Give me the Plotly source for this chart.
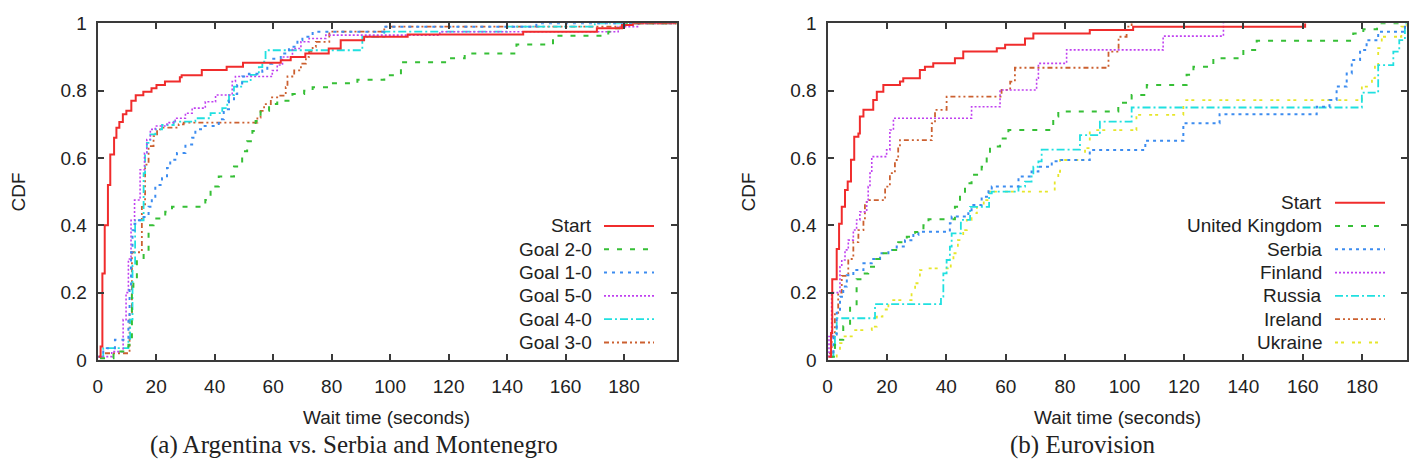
import plotly.graph_objects as go

W, H = 1419, 461

# ---------------- data: (a) Argentina vs. Serbia and Montenegro ----------------
a_names = ["Start", "Goal 2-0", "Goal 1-0", "Goal 5-0", "Goal 4-0", "Goal 3-0"]

a_start_x = [0.3, 1.0, 1.6, 2.4, 3.5, 4.3, 5.6, 6.4, 7.4, 8.6, 9.8, 11.5, 13.0, 15.6, 18.4, 20.1, 23, 28.1, 28.7,
             35.6, 44.1, 49.7, 62.6, 66, 71, 79, 83.1, 91.1, 106, 145.5, 170.7, 179.3, 183, 198]
a_start_y = [0.01, 0.04, 0.257, 0.40, 0.52, 0.61, 0.66, 0.69, 0.707, 0.73, 0.74, 0.77, 0.786, 0.797, 0.807, 0.817,
             0.827, 0.84, 0.846, 0.861, 0.871, 0.883, 0.89, 0.90, 0.91, 0.925, 0.95, 0.96, 0.967, 0.975, 0.985,
             0.995, 1.0, 1.0]

a_g20_x = [0.8, 5.4, 10, 10.5, 11.7, 12.2, 13.4, 15.7, 17.4, 19.1, 23.1, 25.4, 36.8, 38.6, 41.4, 46.6, 49.4, 51.1,
           52.9, 54, 55.7, 58.6, 61.4, 66.6, 70.6, 73.5, 79.2, 88.8, 98, 103.7, 120, 125.5, 143.2, 155.7, 174.6,
           176.3, 179, 181, 198]
a_g20_y = [0.005, 0.025, 0.035, 0.045, 0.2, 0.24, 0.3, 0.32, 0.4, 0.42, 0.44, 0.455, 0.475, 0.515, 0.545, 0.575,
           0.62, 0.65, 0.68, 0.71, 0.74, 0.76, 0.77, 0.79, 0.80, 0.81, 0.822, 0.832, 0.846, 0.884, 0.896, 0.91,
           0.937, 0.963, 0.975, 0.985, 0.995, 1.0, 1.0]

a_g10_x = [0.2, 1.9, 3.1, 5.9, 10.5, 10.9, 11.4, 11.9, 12.6, 13.4, 15.1, 17.4, 18.5, 19.7, 22, 23.7, 24.8, 27.1, 30,
           32.3, 33.4, 35.7, 41.4, 43.1, 44.9, 46.6, 47.7, 49.4, 51.7, 56.3, 58, 59.7, 62.6, 65.4, 68.3, 70, 73.5,
           98, 150, 198]
a_g10_y = [0.01, 0.025, 0.035, 0.06, 0.12, 0.22, 0.32, 0.385, 0.405, 0.415, 0.425, 0.455, 0.485, 0.52, 0.54, 0.57,
           0.595, 0.615, 0.64, 0.66, 0.685, 0.695, 0.715, 0.745, 0.77, 0.79, 0.817, 0.842, 0.85, 0.86, 0.88, 0.895,
           0.91, 0.93, 0.95, 0.96, 0.975, 0.99, 1.0, 1.0]

a_g50_x = [0.2, 4.8, 8.7, 9.7, 10.5, 11.4, 12.6, 14.5, 16, 16.8, 18, 19.7, 23.7, 26.5, 30, 32.3, 36.8, 40.3, 46,
           47.1, 59.7, 61.4, 63.2, 66.6, 69.5, 72.3, 78, 117, 178, 185, 198]
a_g50_y = [0.01, 0.025, 0.12, 0.2, 0.3, 0.415, 0.475, 0.565, 0.615, 0.655, 0.685, 0.695, 0.705, 0.718, 0.733,
           0.748, 0.767, 0.787, 0.827, 0.842, 0.86, 0.876, 0.9, 0.925, 0.945, 0.955, 0.965, 0.975, 0.99, 1.0, 1.0]

a_g40_x = [0.5, 1.9, 10.5, 11.1, 11.9, 12.8, 15.7, 16.2, 16.8, 18, 19.7, 22, 26, 33.4, 38.6, 42.6, 44.3, 44.9,
           46.6, 49.4, 52.3, 55.1, 56.3, 57.4, 90.5, 98, 140, 170, 198]
a_g40_y = [0.01, 0.035, 0.06, 0.12, 0.28, 0.415, 0.555, 0.615, 0.645, 0.67, 0.685, 0.698, 0.708, 0.718, 0.733,
           0.748, 0.77, 0.787, 0.812, 0.827, 0.847, 0.87, 0.886, 0.92, 0.96, 0.975, 0.99, 1.0, 1.0]

a_g30_x = [2.5, 10.9, 11.7, 15.1, 16.2, 17.4, 19.1, 20.3, 22, 27.7, 29.4, 54.6, 55.7, 56.9, 59.2, 62, 64.3, 64.9,
           67.2, 69.5, 71.2, 72.3, 73.5, 74.6, 79.2, 98, 180, 198]
a_g30_y = [0.02, 0.14, 0.32, 0.455, 0.58, 0.635, 0.665, 0.685, 0.69, 0.70, 0.705, 0.72, 0.74, 0.76, 0.78, 0.785,
           0.81, 0.842, 0.86, 0.88, 0.9, 0.916, 0.93, 0.945, 0.975, 0.99, 1.0, 1.0]

# ---------------- data: (b) Eurovision ----------------
b_names = ["Start", "United Kingdom", "Serbia", "Finland", "Russia", "Ireland", "Ukraine"]

b_start_x = [0.3, 1.2, 1.6, 3.1, 3.9, 4.8, 5.9, 6.8, 7.9, 9, 10.4, 10.9, 12.1, 15.4, 16.6, 18.8, 24.4, 25.5, 31.1,
             32.8, 35.6, 42.9, 45.7, 57, 59.8, 66.5, 69.3, 88.3, 102.9, 160.8]
b_start_y = [0.01, 0.08, 0.24, 0.33, 0.405, 0.455, 0.505, 0.53, 0.595, 0.663, 0.673, 0.723, 0.743, 0.772, 0.797,
             0.817, 0.827, 0.837, 0.861, 0.871, 0.881, 0.896, 0.916, 0.926, 0.936, 0.955, 0.97, 0.98, 0.99, 1.0]

b_uk_x = [0.8, 2.5, 3.6, 5.3, 7.6, 9.8, 11.5, 13.7, 16, 18.2, 21, 23.8, 26.7, 29.5, 32.3, 34, 42.9, 44.6, 46.3,
          48.5, 51.9, 53.6, 54.7, 58.1, 60.9, 76, 77.7, 97.9, 102.4, 107.5, 120.9, 123.2, 129.9, 140, 144.5, 177,
          180.4, 185, 195]
b_uk_y = [0.01, 0.045, 0.06, 0.1, 0.16, 0.24, 0.257, 0.277, 0.3, 0.317, 0.327, 0.35, 0.366, 0.38, 0.4, 0.418,
          0.455, 0.495, 0.525, 0.55, 0.574, 0.61, 0.634, 0.658, 0.683, 0.723, 0.738, 0.764, 0.787, 0.817, 0.847,
          0.871, 0.896, 0.921, 0.948, 0.97, 0.982, 1.0, 1.0]

b_serbia_x = [0.8, 2, 3.1, 4.2, 5.3, 6.5, 8.7, 12.1, 14.9, 17.7, 20.5, 23.3, 26.1, 28.9, 30.6, 41.2, 41.8, 47.4,
              48.5, 51.9, 54.2, 55.3, 64.3, 68.7, 71, 75.5, 77.7, 88.3, 107, 119.8, 132, 164.7, 169, 171.4, 174.8,
              176.5, 179.3, 181.5, 185.4, 194.4, 195]
b_serbia_y = [0.01, 0.07, 0.14, 0.188, 0.218, 0.252, 0.267, 0.287, 0.3, 0.317, 0.327, 0.337, 0.356, 0.371, 0.381,
              0.406, 0.426, 0.436, 0.46, 0.485, 0.505, 0.515, 0.545, 0.56, 0.574, 0.59, 0.594, 0.624, 0.651, 0.703,
              0.73, 0.752, 0.772, 0.812, 0.851, 0.891, 0.921, 0.95, 0.975, 1.0, 1.0]

b_finland_x = [0.3, 0.5, 1.4, 4.2, 4.8, 5.9, 7, 8.7, 9.8, 10.9, 13.2, 13.7, 14.3, 14.9, 19.9, 21, 22.2, 48.5, 58.1,
               70.4, 71, 80.5, 113, 133.3]
b_finland_y = [0.01, 0.07, 0.2, 0.277, 0.297, 0.327, 0.356, 0.386, 0.416, 0.44, 0.475, 0.515, 0.555, 0.604, 0.624,
               0.683, 0.718, 0.752, 0.802, 0.837, 0.881, 0.921, 0.962, 1.0]

b_russia_x = [1.4, 2, 2.5, 3.1, 16, 38.2, 39, 40.1, 41.2, 41.8, 44.9, 48, 54.4, 55.3, 64.3, 66.5, 68.7, 69.3, 71,
              72.1, 85, 91.7, 102.4, 179.9, 185.4, 190.5, 192.5, 194.4, 195]
b_russia_y = [0.01, 0.03, 0.08, 0.124, 0.166, 0.188, 0.257, 0.297, 0.337, 0.376, 0.416, 0.455, 0.495, 0.5, 0.515,
              0.53, 0.545, 0.574, 0.59, 0.625, 0.668, 0.708, 0.75, 0.794, 0.876, 0.916, 0.95, 1.0, 1.0]

b_ireland_x = [0.5, 1.4, 2.5, 3.6, 4.8, 7, 8.7, 10.4, 12.1, 12.6, 13.2, 19.4, 21, 22.7, 23.8, 24.4, 35.1, 36.2,
               40.1, 58.6, 61.5, 63.1, 94.6, 98, 100.7, 102.4]
b_ireland_y = [0.02, 0.07, 0.14, 0.2, 0.25, 0.3, 0.35, 0.386, 0.416, 0.465, 0.475, 0.515, 0.555, 0.594, 0.634,
               0.653, 0.703, 0.743, 0.782, 0.802, 0.827, 0.868, 0.916, 0.96, 0.99, 1.0]

b_ukraine_x = [0.8, 3.1, 4.2, 5.3, 8.7, 14.9, 16.6, 18.5, 20.5, 28.3, 29.5, 31.1, 33.4, 41.5, 42.4, 43.9, 45.7,
               46.9, 48.5, 50.3, 52.6, 54.4, 76.5, 77.7, 78.3, 86.7, 88.3, 104, 119.8, 179.9, 183.3, 184.3, 185.4,
               186.6, 193.2, 195]
b_ukraine_y = [0.01, 0.03, 0.05, 0.07, 0.089, 0.099, 0.129, 0.15, 0.178, 0.203, 0.228, 0.267, 0.272, 0.297, 0.317,
               0.356, 0.386, 0.416, 0.436, 0.455, 0.475, 0.5, 0.535, 0.559, 0.594, 0.629, 0.683, 0.728, 0.772,
               0.812, 0.837, 0.876, 0.926, 0.96, 0.99, 1.0]

x_ticks = [0, 20, 40, 60, 80, 100, 120, 140, 160, 180]
y_ticks = [0, 0.2, 0.4, 0.6, 0.8, 1]
x_title = "Wait time (seconds)"
y_title = "CDF"
caption_a = "(a) Argentina vs. Serbia and Montenegro"
caption_b = "(b) Eurovision"

# ---------------- styles ----------------
RED = "#f02c2c"
GREEN = "#36bf36"
BLUE = "#3c8cf0"
MAGENTA = "#c040f0"
CYAN = "#20e0e0"
BROWN = "#cc6030"
YELLOW = "#e6e62a"

a_styles = [(RED, "solid", 2.0), (GREEN, "5px,8px", 2.0), (BLUE, "3px,5px", 2.0),
            (MAGENTA, "2px,2px", 1.6), (CYAN, "8px,3px,2px,3px", 1.8), (BROWN, "5px,3px,2px,3px,2px,3px", 1.8)]
b_styles = [(RED, "solid", 2.0), (GREEN, "5px,8px", 2.0), (BLUE, "3px,4px", 2.0),
            (MAGENTA, "2px,2px", 1.6), (CYAN, "8px,3px,2px,3px", 1.8), (BROWN, "5px,3px,2px,3px,2px,3px", 1.8),
            (YELLOW, "3px,3px,3px,8px", 1.8)]

a_series = [(a_start_x, a_start_y), (a_g20_x, a_g20_y), (a_g10_x, a_g10_y), (a_g50_x, a_g50_y),
            (a_g40_x, a_g40_y), (a_g30_x, a_g30_y)]
b_series = [(b_start_x, b_start_y), (b_uk_x, b_uk_y), (b_serbia_x, b_serbia_y), (b_finland_x, b_finland_y),
            (b_russia_x, b_russia_y), (b_ireland_x, b_ireland_y), (b_ukraine_x, b_ukraine_y)]


def px(x):
    return x / W


def py(y):
    return 1 - y / H


FONT = "Liberation Sans"
TXT = "#222222"
AX = "#3a3a3a"

fig = go.Figure()

# draw in reverse so that Start is on top
for (xs, ys), name, (c, d, w) in reversed(list(zip(a_series, a_names, a_styles))):
    fig.add_trace(go.Scatter(x=xs, y=ys, mode="lines", line=dict(shape="hv", color=c, dash=d, width=w),
                             name=name, xaxis="x", yaxis="y", showlegend=False))
for (xs, ys), name, (c, d, w) in reversed(list(zip(b_series, b_names, b_styles))):
    fig.add_trace(go.Scatter(x=xs, y=ys, mode="lines", line=dict(shape="hv", color=c, dash=d, width=w),
                             name=name, xaxis="x2", yaxis="y2", showlegend=False))

ydom = [py(360), py(23.3)]
common_x = dict(tickvals=x_ticks, ticks="inside", ticklen=6, tickwidth=1.5, tickcolor=AX, automargin=False,
                showline=True, linecolor=AX, linewidth=2, mirror="allticks", showgrid=False, zeroline=False,
                tickfont=dict(family=FONT, size=19, color=TXT), ticklabelstandoff=8)
common_y = dict(tickvals=y_ticks, range=[0, 1], ticks="inside", ticklen=6, tickwidth=1.5, tickcolor=AX,
                automargin=False,
                showline=True, linecolor=AX, linewidth=2, mirror="allticks", showgrid=False, zeroline=False,
                tickfont=dict(family=FONT, size=19, color=TXT), ticklabelstandoff=5, domain=ydom)

fig.update_layout(
    width=W, height=H, margin=dict(l=0, r=0, t=0, b=0, autoexpand=False),
    paper_bgcolor="white", plot_bgcolor="white",
    xaxis=dict(domain=[px(97.7), px(676.7)], range=[0, 198], anchor="y", **common_x),
    yaxis=dict(anchor="x", **common_y),
    xaxis2=dict(domain=[px(827.5), px(1406.7)], range=[0, 195], anchor="y2", **common_x),
    yaxis2=dict(anchor="x2", **common_y),
)

ann = []
# axis titles
for cx, cy in [(387, 417), (1117, 417)]:
    ann.append(dict(x=px(cx), y=py(cy), xref="paper", yref="paper", text=x_title, showarrow=False,
                    xanchor="center", yanchor="middle", font=dict(family=FONT, size=19, color=TXT)))
for cx, cy in [(18.5, 192), (748.5, 192)]:
    ann.append(dict(x=px(cx), y=py(cy), xref="paper", yref="paper", text=y_title, showarrow=False, textangle=-90,
                    xanchor="center", yanchor="middle", font=dict(family=FONT, size=19, color=TXT)))
# captions (kept fully inside the picture)
for cx, txt in [(353.5, caption_a), (1083, caption_b)]:
    ann.append(dict(x=px(cx), y=py(461), xref="paper", yref="paper", text=txt, showarrow=False,
                    xanchor="center", yanchor="bottom", font=dict(family="Liberation Serif", size=25, color=TXT)))

shapes = []


def legend(names, styles, text_right, line_x0, line_x1, y0, step):
    for i, (n, (c, d, w)) in enumerate(zip(names, styles)):
        yy = y0 + step * i
        ann.append(dict(x=px(text_right), y=py(yy), xref="paper", yref="paper", text=n, showarrow=False,
                        xanchor="right", yanchor="middle", font=dict(family=FONT, size=19, color=TXT)))
        shapes.append(dict(type="line", xref="paper", yref="paper", x0=px(line_x0), x1=px(line_x1),
                           y0=py(yy), y1=py(yy), line=dict(color=c, dash=d, width=w)))


legend(a_names, a_styles, 594, 604, 654, 226, 23.3)
legend(b_names, b_styles, 1324, 1335, 1385, 202.7, 23.3)

fig.update_layout(annotations=ann, shapes=shapes)
fig.write_html("out.html", config={"displayModeBar": False},
               post_script="document.body.style.margin='0';document.body.style.padding='0';"
                           "document.body.style.overflow='hidden';")
